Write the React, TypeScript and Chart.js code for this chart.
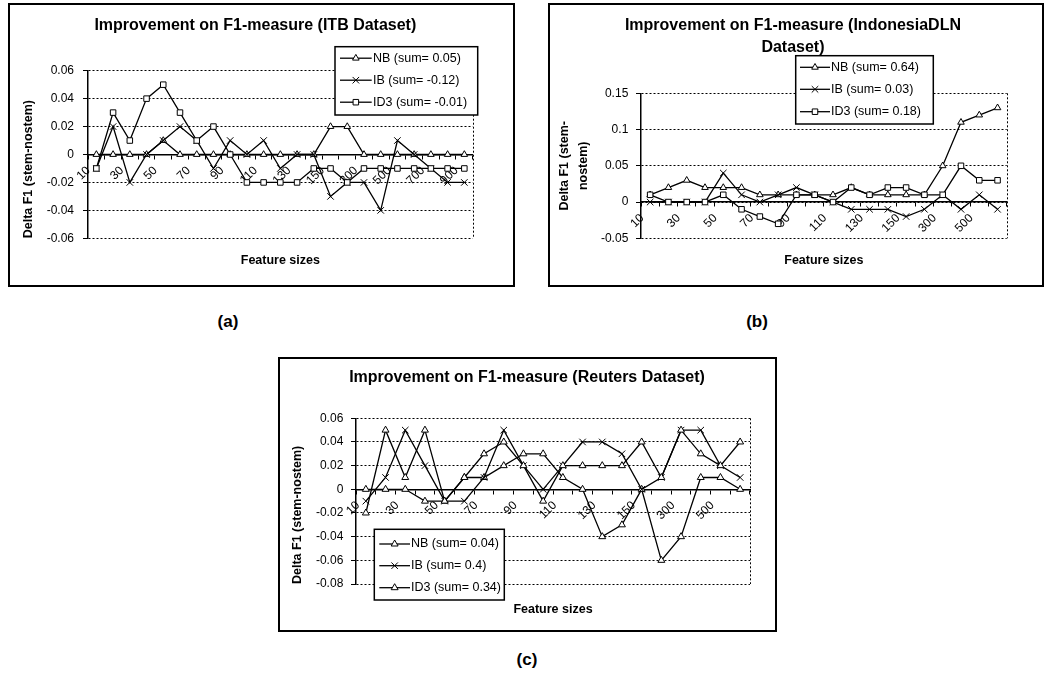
import React, { useEffect, useRef } from 'react';
import { Chart, registerables } from 'chart.js';

Chart.register(...registerables);

const FONT = '"Liberation Sans", Arial, Helvetica, sans-serif';

// ---------- ITB dataset ----------
const itbSizes = ['10', '20', '30', '40', '50', '60', '70', '80', '90', '100', '110', '120', '130', '140', '150', '200', '300', '400', '500', '600', '700', '800', '900'];
const itbNB = [0, 0, 0, 0, 0.01, 0, 0, 0, 0, 0, 0, 0, 0, 0, 0.02, 0.02, 0, 0, 0, 0, 0, 0, 0];
const itbIB = [-0.01, 0.02, -0.02, 0, 0.01, 0.02, 0.01, -0.01, 0.01, 0, 0.01, -0.01, 0, 0, -0.03, -0.02, -0.02, -0.04, 0.01, 0, -0.01, -0.02, -0.02];
const itbID3 = [-0.01, 0.03, 0.01, 0.04, 0.05, 0.03, 0.01, 0.02, 0, -0.02, -0.02, -0.02, -0.02, -0.01, -0.01, -0.02, -0.01, -0.01, -0.01, -0.01, -0.01, -0.01, -0.01];
const itbNames = ['NB (sum= 0.05)', 'IB (sum= -0.12)', 'ID3 (sum= -0.01)'];
const itbYTicks = [-0.06, -0.04, -0.02, 0, 0.02, 0.04, 0.06];

// ---------- IndonesiaDLN dataset ----------
const dlnSizes = ['10', '20', '30', '40', '50', '60', '70', '80', '90', '100', '110', '120', '130', '140', '150', '200', '300', '400', '500', '600'];
const dlnNB = [0.01, 0.02, 0.03, 0.02, 0.02, 0.02, 0.01, 0.01, 0.01, 0.01, 0.01, 0.02, 0.01, 0.01, 0.01, 0.01, 0.05, 0.11, 0.12, 0.13];
const dlnIB = [0, 0, 0, 0, 0.04, 0.01, 0, 0.01, 0.02, 0.01, 0, -0.01, -0.01, -0.01, -0.02, -0.01, 0.01, -0.01, 0.01, -0.01];
const dlnID3 = [0.01, 0, 0, 0, 0.01, -0.01, -0.02, -0.03, 0.01, 0.01, 0, 0.02, 0.01, 0.02, 0.02, 0.01, 0.01, 0.05, 0.03, 0.03];
const dlnNames = ['NB (sum= 0.64)', 'IB (sum= 0.03)', 'ID3 (sum= 0.18)'];
const dlnYTicks = [-0.05, 0, 0.05, 0.1, 0.15];

// ---------- Reuters dataset ----------
const reutersSizes = ['10', '20', '30', '40', '50', '60', '70', '80', '90', '100', '110', '120', '130', '140', '150', '200', '300', '400', '500', '600'];
const reutersNB = [-0.02, 0.05, 0.01, 0.05, -0.01, 0.01, 0.01, 0.02, 0.03, 0.03, 0.01, 0, -0.04, -0.03, 0, -0.06, -0.04, 0.01, 0.01, 0];
const reutersIB = [-0.01, 0.01, 0.05, 0.02, -0.01, -0.01, 0.01, 0.05, 0.02, 0, 0.02, 0.04, 0.04, 0.03, 0, 0.01, 0.05, 0.05, 0.02, 0.01];
const reutersID3 = [0, 0, 0, -0.01, -0.01, 0.01, 0.03, 0.04, 0.02, -0.01, 0.02, 0.02, 0.02, 0.02, 0.04, 0.01, 0.05, 0.03, 0.02, 0.04];
const reutersNames = ['NB (sum= 0.04)', 'IB (sum= 0.4)', 'ID3 (sum= 0.34)'];
const reutersYTicks = [-0.08, -0.06, -0.04, -0.02, 0, 0.02, 0.04, 0.06];

const xTitle = 'Feature sizes';
const yTitle = 'Delta F1 (stem-nostem)';

type Marker = 'triangle' | 'crossRot' | 'rect';

interface SeriesSpec {
  label: string;
  data: number[];
  marker: Marker;
  radius: number;
}

interface LegendSpec {
  x: number;
  y: number;
  w: number;
  h: number;
  rows: number[];
  line0: number;
  line1: number;
  text: number;
}

interface PanelSpec {
  box: { left: number; top: number; width: number; height: number };
  title: string | string[];
  titleLineHeight: number;
  titlePad: { top: number; bottom: number };
  titleDx: number;
  categories: string[];
  series: SeriesSpec[];
  yTicks: number[];
  yTitle: string | string[];
  yTitleAlign: 'start' | 'center';
  yTitleLineHeight: number;
  yTitlePad: number;
  yAxisWidth: number;
  yTickPadding: number;
  padRight: number;
  subPad: { top: number; bottom: number };
  legend: LegendSpec;
}

const LINE_WIDTH = 1.3;

function drawMarker(ctx: CanvasRenderingContext2D, marker: Marker, x: number, y: number, r: number) {
  ctx.beginPath();
  if (marker === 'triangle') {
    ctx.moveTo(x, y - r);
    ctx.lineTo(x + r * Math.sin((2 * Math.PI) / 3), y - r * Math.cos((2 * Math.PI) / 3));
    ctx.lineTo(x + r * Math.sin((4 * Math.PI) / 3), y - r * Math.cos((4 * Math.PI) / 3));
    ctx.closePath();
    ctx.fill();
    ctx.stroke();
  } else if (marker === 'rect') {
    const s = r * Math.SQRT1_2;
    ctx.rect(x - s, y - s, 2 * s, 2 * s);
    ctx.fill();
    ctx.stroke();
  } else {
    const s = r * Math.SQRT1_2;
    ctx.moveTo(x - s, y - s);
    ctx.lineTo(x + s, y + s);
    ctx.moveTo(x + s, y - s);
    ctx.lineTo(x - s, y + s);
    ctx.stroke();
  }
}

// Boxed legend drawn over the plot, in the spot given by the panel
const boxLegend = {
  id: 'boxLegend',
  afterDraw(chart: any, _args: any, opts: any) {
    const { ctx } = chart;
    const lg: LegendSpec = opts.spec;
    const series: SeriesSpec[] = opts.series;
    if (!lg) return;
    ctx.save();
    ctx.fillStyle = '#fff';
    ctx.fillRect(lg.x, lg.y, lg.w, lg.h);
    ctx.strokeStyle = '#000';
    ctx.lineWidth = 1.5;
    ctx.strokeRect(lg.x, lg.y, lg.w, lg.h);
    series.forEach((s, i) => {
      const yy = lg.y + lg.rows[i];
      ctx.strokeStyle = '#000';
      ctx.lineWidth = LINE_WIDTH;
      ctx.beginPath();
      ctx.moveTo(lg.x + lg.line0, yy);
      ctx.lineTo(lg.x + lg.line1, yy);
      ctx.stroke();
      ctx.fillStyle = '#fff';
      ctx.lineWidth = 1;
      drawMarker(ctx, s.marker, lg.x + (lg.line0 + lg.line1) / 2, yy, s.radius);
      ctx.fillStyle = '#000';
      ctx.font = `12.5px ${FONT}`;
      ctx.textAlign = 'left';
      ctx.textBaseline = 'middle';
      ctx.fillText(s.label, lg.x + lg.text, yy);
    });
    ctx.restore();
  },
};

// Dotted right-hand edge of the plot area
const plotFrame = {
  id: 'plotFrame',
  beforeDatasetsDraw(chart: any) {
    const { ctx, chartArea } = chart;
    const x = Math.round(chartArea.right) + 0.5;
    ctx.save();
    ctx.strokeStyle = '#000';
    ctx.lineWidth = 1;
    ctx.setLineDash([2, 2]);
    ctx.beginPath();
    ctx.moveTo(x, chartArea.top);
    ctx.lineTo(x, chartArea.bottom);
    ctx.stroke();
    ctx.restore();
  },
};

// Horizontal nudge for the chart title
const titleShift = {
  id: 'titleShift',
  afterLayout(chart: any, _args: any, opts: any) {
    const tb = chart.titleBlock;
    if (tb && opts.dx) {
      tb.left += opts.dx;
      tb.right += opts.dx;
    }
  },
};

function Panel({ spec }: { spec: PanelSpec }) {
  const ref = useRef<HTMLCanvasElement>(null);
  const w = spec.box.width - 4;
  const h = spec.box.height - 4;

  useEffect(() => {
    const canvas = ref.current;
    if (!canvas) return;
    const n = spec.series.length;
    const chart = new Chart(canvas, {
      type: 'line',
      data: {
        labels: spec.categories,
        datasets: spec.series.map((s, i) => ({
          label: s.label,
          data: s.data,
          borderColor: '#000',
          borderWidth: LINE_WIDTH,
          pointStyle: s.marker,
          pointRadius: s.radius,
          pointHoverRadius: s.radius,
          pointBorderColor: '#000',
          pointBackgroundColor: '#fff',
          pointBorderWidth: 1,
          fill: false,
          tension: 0,
          order: n - 1 - i,
        })),
      },
      options: {
        responsive: false,
        animation: false,
        devicePixelRatio: 1,
        events: [],
        layout: { padding: { left: 0, right: spec.padRight, top: 0, bottom: 0 } },
        scales: {
          x: {
            type: 'category',
            offset: true,
            position: { y: 0 } as any,
            grid: {
              display: true,
              drawOnChartArea: false,
              drawTicks: true,
              tickLength: 4,
              color: '#000',
              offset: true,
            },
            border: { display: true, color: '#000', width: 1.5 },
            ticks: {
              autoSkip: false,
              minRotation: 45,
              maxRotation: 45,
              padding: 5,
              labelOffset: -8,
              color: '#000',
              font: { family: FONT, size: 12 },
              callback: (_v: any, i: number) => (i % 2 === 0 ? spec.categories[i] : ''),
            },
          },
          y: {
            min: spec.yTicks[0],
            max: spec.yTicks[spec.yTicks.length - 1],
            afterBuildTicks: (scale: any) => {
              scale.ticks = spec.yTicks.map((v) => ({ value: v }));
            },
            afterFit: (scale: any) => {
              scale.width = spec.yAxisWidth;
            },
            grid: { color: '#000', lineWidth: 1, drawTicks: true, tickLength: 5, tickBorderDash: [] } as any,
            border: { display: true, color: '#000', width: 1.5, dash: [2, 2] },
            ticks: {
              color: '#000',
              padding: spec.yTickPadding,
              font: { family: FONT, size: 12 },
              callback: (v: any) => String(v),
            },
            title: {
              display: true,
              text: spec.yTitle,
              align: spec.yTitleAlign,
              color: '#000',
              font: { family: FONT, size: 12.5, weight: 'bold', lineHeight: spec.yTitleLineHeight },
              padding: { top: spec.yTitlePad, bottom: 0 },
            },
          },
        },
        plugins: {
          legend: { display: false },
          tooltip: { enabled: false },
          title: {
            display: true,
            text: spec.title,
            color: '#000',
            font: { family: FONT, size: 16, weight: 'bold', lineHeight: spec.titleLineHeight },
            padding: spec.titlePad,
          },
          subtitle: {
            display: true,
            text: xTitle,
            position: 'bottom',
            fullSize: false,
            color: '#000',
            font: { family: FONT, size: 12.5, weight: 'bold', lineHeight: 1.2 },
            padding: spec.subPad,
          },
          boxLegend: { spec: spec.legend, series: spec.series },
          titleShift: { dx: spec.titleDx },
        } as any,
      },
      plugins: [plotFrame, boxLegend, titleShift],
    });
    return () => chart.destroy();
  }, [spec]);

  return (
    <div
      style={{
        position: 'absolute',
        left: spec.box.left,
        top: spec.box.top,
        width: spec.box.width,
        height: spec.box.height,
        border: '2px solid #000',
        boxSizing: 'border-box',
        background: '#fff',
      }}
    >
      <canvas ref={ref} width={w} height={h} style={{ position: 'absolute', left: 0, top: 0, width: w, height: h }} />
    </div>
  );
}

const panelA: PanelSpec = {
  box: { left: 8, top: 3, width: 507, height: 284 },
  title: 'Improvement on F1-measure (ITB Dataset)',
  titleLineHeight: 1.2,
  titlePad: { top: 11, bottom: 35.5 },
  titleDx: 14,
  categories: itbSizes,
  series: [
    { label: itbNames[0], data: itbNB, marker: 'triangle', radius: 3.8 },
    { label: itbNames[1], data: itbIB, marker: 'crossRot', radius: 4.6 },
    { label: itbNames[2], data: itbID3, marker: 'rect', radius: 3.9 },
  ],
  yTicks: itbYTicks,
  yTitle: yTitle,
  yTitleAlign: 'start',
  yTitleLineHeight: 1.2,
  yTitlePad: 10.8,
  yAxisWidth: 78,
  yTickPadding: 9,
  padRight: 40.3,
  subPad: { top: 15.2, bottom: 16.5 },
  legend: { x: 325, y: 41.7, w: 142.7, h: 68.3, rows: [11.5, 33.5, 55.5], line0: 5, line1: 36.7, text: 38 },
};

const panelB: PanelSpec = {
  box: { left: 548, top: 3, width: 496, height: 284 },
  title: ['Improvement on F1-measure (IndonesiaDLN', 'Dataset)'],
  titleLineHeight: 1.375,
  titlePad: { top: 9.7, bottom: 34.6 },
  titleDx: 14.6,
  categories: dlnSizes,
  series: [
    { label: dlnNames[0], data: dlnNB, marker: 'triangle', radius: 3.8 },
    { label: dlnNames[1], data: dlnIB, marker: 'crossRot', radius: 4.6 },
    { label: dlnNames[2], data: dlnID3, marker: 'rect', radius: 3.9 },
  ],
  yTicks: dlnYTicks,
  yTitle: ['Delta F1 (stem-', 'nostem)'],
  yTitleAlign: 'center',
  yTitleLineHeight: 1.52,
  yTitlePad: 4.8,
  yAxisWidth: 91,
  yTickPadding: 7.7,
  padRight: 35.3,
  subPad: { top: 15.2, bottom: 16.5 },
  legend: { x: 245.7, y: 50.7, w: 137.6, h: 68.3, rows: [11.6, 33.6, 56], line0: 4.3, line1: 34.3, text: 35.3 },
};

const panelC: PanelSpec = {
  box: { left: 278, top: 357, width: 499, height: 275 },
  title: 'Improvement on F1-measure (Reuters Dataset)',
  titleLineHeight: 1.2,
  titlePad: { top: 9.4, bottom: 30.7 },
  titleDx: 12,
  categories: reutersSizes,
  series: [
    { label: reutersNames[0], data: reutersNB, marker: 'triangle', radius: 4 },
    { label: reutersNames[1], data: reutersIB, marker: 'crossRot', radius: 4.6 },
    { label: reutersNames[2], data: reutersID3, marker: 'triangle', radius: 4 },
  ],
  yTicks: reutersYTicks,
  yTitle: yTitle,
  yTitleAlign: 'start',
  yTitleLineHeight: 1.2,
  yTitlePad: 9.8,
  yAxisWidth: 76,
  yTickPadding: 7.7,
  padRight: 25,
  subPad: { top: 17.8, bottom: 13.2 },
  legend: { x: 94.3, y: 170.3, w: 130, h: 70.7, rows: [14.7, 36.4, 58.4], line0: 5, line1: 35.7, text: 36.7 },
};

const captionStyle: React.CSSProperties = {
  position: 'absolute',
  fontFamily: FONT,
  fontWeight: 'bold',
  fontSize: 17,
  lineHeight: '20px',
  transform: 'translate(-50%, -50%)',
  color: '#000',
  whiteSpace: 'nowrap',
};

export default function App() {
  return (
    <div style={{ position: 'absolute', left: 0, top: 0, width: 1048, height: 678, background: '#fff' }}>
      <Panel spec={panelA} />
      <Panel spec={panelB} />
      <Panel spec={panelC} />
      <div style={{ ...captionStyle, left: 228, top: 322 }}>(a)</div>
      <div style={{ ...captionStyle, left: 757, top: 322 }}>(b)</div>
      <div style={{ ...captionStyle, left: 527, top: 660 }}>(c)</div>
    </div>
  );
}
